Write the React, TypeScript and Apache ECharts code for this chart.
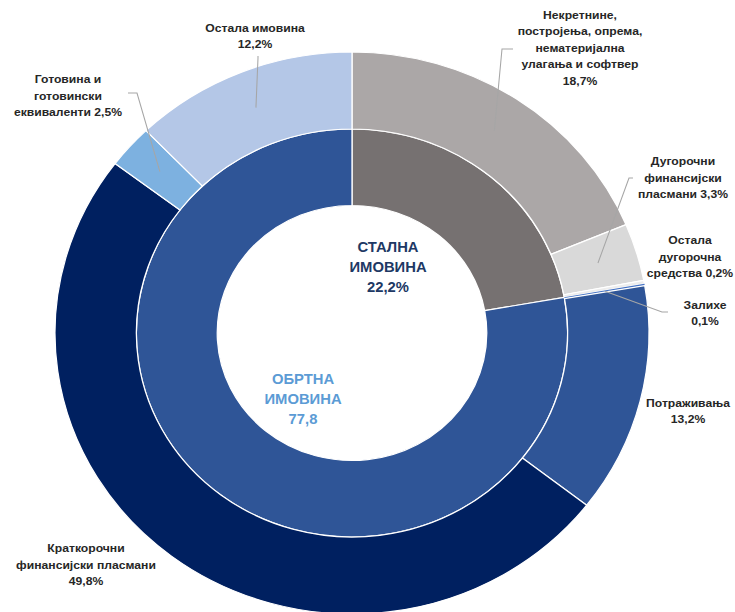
import React, { useEffect, useRef } from 'react';
import * as echarts from 'echarts';

// ---- data ----
const innerNames = ['СТАЛНА\nИМОВИНА', 'ОБРТНА\nИМОВИНА'];
const innerValues = [22.2, 77.8];
const innerSuffix = ['%', ''];

const outerNames = [
  'Некретнине,\nпостројења, опрема,\nнематеријална\nулагања и софтвер',
  'Дугорочни\nфинансијски\nпласмани',
  'Остала\nдугорочна\nсредства',
  'Залихе',
  'Потраживања',
  'Краткорочни\nфинансијски пласмани',
  'Готовина и\nготовински\nеквиваленти',
  'Остала имовина',
];
const outerValues = [18.7, 3.3, 0.2, 0.1, 13.2, 49.8, 2.5, 12.2];
const valueJoin = ['\n', ' ', ' ', '\n', '\n', '\n', ' ', '\n'];

// ---- styles / layout ----
const innerColors = ['#767171', '#2F5597'];
const innerLabelColors = ['#203864', '#5B9BD5'];
const outerColors = ['#ABA7A7', '#D9D9D9', '#EDEDED', '#4472C4', '#2F5597', '#002060', '#7DB1E0', '#B4C7E7'];
const outerBorders = [1.2, 1.2, 1.2, 0, 1.2, 1.2, 1.2, 1.2];

const STRETCH = 1.057;
const CX = 352;
const CY = 333;
const R_HOLE = 127.5;
const R_MID = 204;
const R_OUT = 281;
const R_LEADER = 243;
const toChartX = (x: number) => CX + (x - CX) / STRETCH;

const outerLabelPos: number[][] = [
  [580, 48], [683, 178], [690, 257], [705, 313], [688, 411], [86, 565], [68, 96], [255, 36],
];
const leaderPts: (number[][] | null)[] = [
  [[502, 49], [513, 49]],
  [[629, 178], [633, 178]],
  null,
  [[662, 312], [668, 312]],
  null,
  null,
  [[137, 93], [128, 93]],
  [[258, 58], [258, 56]],
];
const innerLabelPos: number[][] = [[388, 267], [303, 399]];

const fmt = (v: number) => v.toFixed(1).replace('.', ',');

export default function App() {
  const ref = useRef<HTMLDivElement>(null);
  useEffect(() => {
    if (!ref.current) return;
    const chart = echarts.init(ref.current, null, { renderer: 'svg' });
    const total = outerValues.reduce((a, b) => a + b, 0);
    let cum = 0;
    const mids = outerValues.map((v) => {
      const m = ((cum + v / 2) / total) * Math.PI * 2;
      cum += v;
      return m;
    });
    const font = 'Arial, "Liberation Sans", sans-serif';
    chart.setOption({
      animation: false,
      backgroundColor: '#ffffff',
      series: [
        {
          type: 'pie',
          silent: true,
          z: 2,
          center: [CX, CY],
          radius: [R_HOLE, R_MID],
          startAngle: 90,
          avoidLabelOverlap: false,
          itemStyle: { borderColor: '#ffffff', borderWidth: 1.2 },
          label: {
            show: true,
            position: 'outside',
            width: 160,
            fontFamily: font,
            fontWeight: 'bold',
            fontSize: 14,
            lineHeight: 20,
            align: 'center',
            formatter: (p: any) => innerNames[p.dataIndex] + '\n' + fmt(p.value) + innerSuffix[p.dataIndex],
          },
          labelLine: { show: false },
          labelLayout: (p: any) => ({
            x: toChartX(innerLabelPos[p.dataIndex][0]),
            y: innerLabelPos[p.dataIndex][1],
            align: 'center',
            verticalAlign: 'middle',
          }),
          data: innerValues.map((v, i) => ({
            value: v,
            name: innerNames[i],
            itemStyle: { color: innerColors[i] },
            label: { color: innerLabelColors[i] },
          })),
        },
        {
          // coloured outer ring
          type: 'pie',
          silent: true,
          z: 2,
          center: [CX, CY],
          radius: [R_MID, R_OUT],
          startAngle: 90,
          itemStyle: { borderColor: '#ffffff', borderWidth: 1.2 },
          label: { show: false },
          labelLine: { show: false },
          data: outerValues.map((v, i) => ({
            value: v,
            name: outerNames[i],
            itemStyle: { color: outerColors[i], borderWidth: outerBorders[i] },
          })),
        },
        {
          // transparent copy on top carrying labels and leader lines
          type: 'pie',
          silent: true,
          z: 5,
          center: [CX, CY],
          radius: [R_MID, R_OUT],
          startAngle: 90,
          avoidLabelOverlap: false,
          itemStyle: { color: 'rgba(0,0,0,0)', borderWidth: 0 },
          label: {
            show: true,
            position: 'outside',
            width: 170,
            fontFamily: font,
            fontWeight: 'bold',
            fontSize: 11.5,
            lineHeight: 16.5,
            color: '#262626',
            align: 'center',
            formatter: (p: any) =>
              outerNames[p.dataIndex] + valueJoin[p.dataIndex] + fmt(p.value) + '%',
          },
          labelLine: { show: true, lineStyle: { color: '#A6A6A6', width: 1 } },
          labelLayout: (p: any) => {
            const i = p.dataIndex;
            const res: any = {
              x: toChartX(outerLabelPos[i][0]),
              y: outerLabelPos[i][1],
              align: 'center',
              verticalAlign: 'middle',
            };
            const lp = leaderPts[i];
            if (lp) {
              const m = mids[i];
              res.labelLinePoints = [
                [CX + R_LEADER * Math.sin(m), CY - R_LEADER * Math.cos(m)],
                [toChartX(lp[0][0]), lp[0][1]],
                [toChartX(lp[1][0]), lp[1][1]],
              ];
            }
            return res;
          },
          data: outerValues.map((v, i) => ({
            value: v,
            name: outerNames[i],
            labelLine: { show: !!leaderPts[i] },
          })),
        },
      ],
    });
    return () => chart.dispose();
  }, []);
  return (
    <div style={{ position: 'absolute', left: 0, top: 0, width: 735, height: 612, overflow: 'hidden', background: '#fff' }}>
      <div
        ref={ref}
        style={{ width: 735, height: 612, transform: `scaleX(${STRETCH})`, transformOrigin: `${CX}px 0px` }}
      />
    </div>
  );
}
